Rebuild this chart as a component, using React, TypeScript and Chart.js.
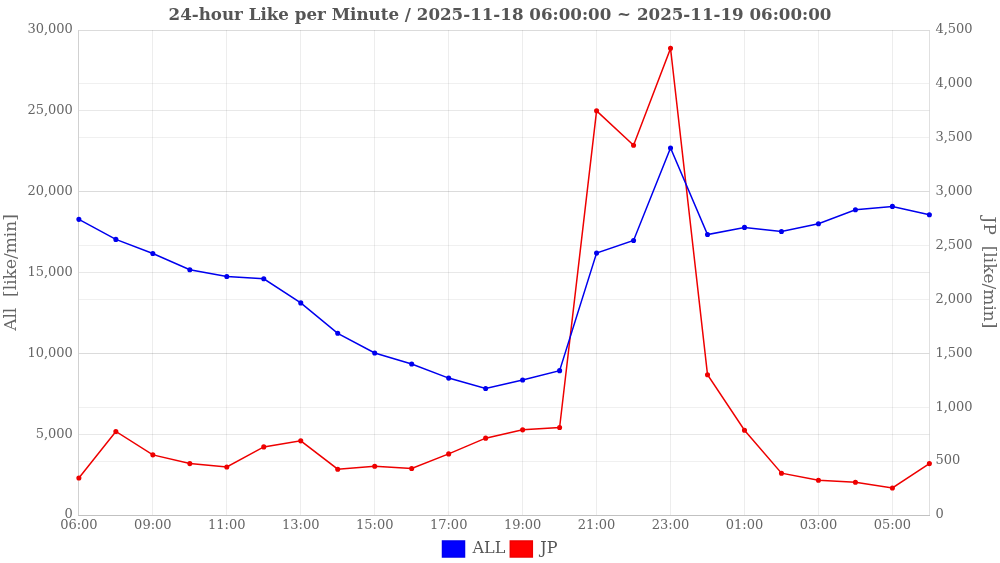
import { useEffect, useRef } from 'react';
import { Chart, ChartConfiguration } from 'chart.js/auto';

const hours = [
    '06:00', '07:00', '09:00', '10:00', '11:00', '12:00', '13:00', '14:00',
    '15:00', '16:00', '17:00', '18:00', '19:00', '20:00', '21:00', '22:00',
    '23:00', '00:00', '01:00', '02:00', '03:00', '04:00', '05:00', '06:00',
];

const allLikes = [
    18290, 17050, 16180, 15170, 14750, 14610, 13120, 11240,
    10020, 9340, 8470, 7830, 8350, 8930, 16200, 16980,
    22700, 17350, 17790, 17540, 18020, 18880, 19090, 18570,
];

const jpLikes = [
    344, 775, 558, 477, 446, 632, 688, 425,
    453, 431, 567, 713, 790, 812, 3750, 3431,
    4330, 1302, 787, 388, 322, 304, 251, 477,
];

const FONT = "'DejaVu Serif', serif";

function LikeChart() {
    const canvasRef = useRef<HTMLCanvasElement>(null);
    const chartRef = useRef<Chart | null>(null);

    useEffect(() => {
        if (!canvasRef.current) return;
        if (chartRef.current) chartRef.current.destroy();

        const fmt = (v: number | string) => Number(v).toLocaleString('en-US');

        const config: ChartConfiguration = {
            type: 'line',
            data: {
                labels: hours,
                datasets: [
                    {
                        label: 'ALL',
                        data: allLikes,
                        borderColor: '#0000ee',
                        backgroundColor: '#0000ff',
                        borderWidth: 1.5,
                        pointRadius: 1.8,
                        pointBackgroundColor: '#0000ee',
                        yAxisID: 'y',
                    },
                    {
                        label: 'JP',
                        data: jpLikes,
                        borderColor: '#ee0000',
                        backgroundColor: '#ff0000',
                        borderWidth: 1.5,
                        pointRadius: 1.8,
                        pointBackgroundColor: '#ee0000',
                        yAxisID: 'y2',
                    },
                ],
            },
            options: {
                responsive: true,
                maintainAspectRatio: false,
                animation: false,
                // negative bottom padding pulls the legend a bit lower
                layout: { padding: { left: 1, right: 1, bottom: -4 } },
                plugins: {
                    title: {
                        display: true,
                        text: '24-hour Like per Minute / 2025-11-18 06:00:00 ~ 2025-11-19 06:00:00',
                        color: '#555',
                        font: { family: FONT, size: 16.7, weight: 'bold' },
                        padding: { top: 6, bottom: 4 },
                    },
                    legend: {
                        position: 'bottom',
                        labels: {
                            color: '#555',
                            font: { family: FONT, size: 16 },
                            boxWidth: 22,
                            boxHeight: 16,
                            padding: 5,
                        },
                    },
                    tooltip: { enabled: false },
                },
                scales: {
                    x: {
                        grid: { drawTicks: false, color: 'rgba(0,0,0,0.07)' },
                        border: { color: 'rgba(0,0,0,0.12)' },
                        ticks: {
                            color: '#666',
                            font: { family: FONT, size: 13, lineHeight: 1 },
                            maxRotation: 0,
                            padding: 4,
                        },
                    },
                    y: {
                        position: 'left',
                        min: 0,
                        max: 30000,
                        grid: { drawTicks: false, color: 'rgba(0,0,0,0.09)' },
                        border: { color: 'rgba(0,0,0,0.12)' },
                        ticks: {
                            stepSize: 5000,
                            color: '#666',
                            font: { family: FONT, size: 13 },
                            padding: 6,
                            callback: (v) => fmt(v),
                        },
                        title: {
                            display: true,
                            text: 'All  [like/min]',
                            color: '#666',
                            font: { family: FONT, size: 17 },
                            padding: 0,
                        },
                    },
                    y2: {
                        position: 'right',
                        min: 0,
                        max: 4500,
                        grid: { drawTicks: false, color: 'rgba(0,0,0,0.06)' },
                        border: { color: 'rgba(0,0,0,0.12)' },
                        ticks: {
                            stepSize: 500,
                            color: '#666',
                            font: { family: FONT, size: 13 },
                            padding: 6,
                            callback: (v) => fmt(v),
                        },
                        title: {
                            display: true,
                            text: 'JP  [like/min]',
                            color: '#666',
                            font: { family: FONT, size: 17 },
                            padding: 0,
                        },
                    },
                },
            },
        };

        chartRef.current = new Chart(canvasRef.current, config);

        return () => {
            if (chartRef.current) {
                chartRef.current.destroy();
                chartRef.current = null;
            }
        };
    }, []);

    return (
        <div style={{ position: 'fixed', left: 0, top: 0, width: 1000, height: 563, background: '#fff' }}>
            <canvas ref={canvasRef} />
        </div>
    );
}

export default function App() {
    return <LikeChart />;
}
